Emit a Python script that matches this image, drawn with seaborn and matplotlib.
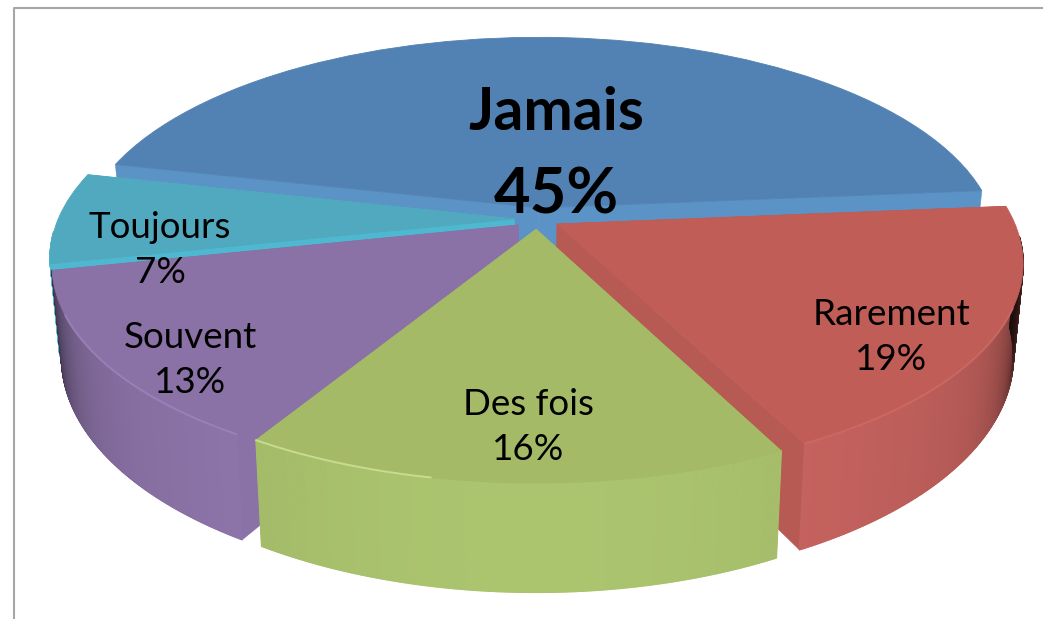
import numpy as np
import seaborn as sns
import matplotlib
matplotlib.use("Agg")
import matplotlib.pyplot as plt
from matplotlib.collections import PolyCollection
from matplotlib.colors import to_rgb
from matplotlib.transforms import Transform

# values
labels = ["Jamais", "Toujours", "Souvent", "Des fois", "Rarement"]
values = [45, 7, 13, 16, 19]

top_colors = ["#5282b3", "#50a9be", "#8a71a6", "#a4ba67", "#c05d57"]
side_colors = ["#5b93c7", "#4db8d0", "#9379b0", "#abc46e", "#cb6561"]
cut_colors = ["#5b93c7", "#4db8d0", "#8a71a6", "#a4ba67", "#b85a54"]

sns.set_theme(style="white")
plt.rcParams["font.family"] = ["Lato", "DejaVu Sans"]

# perspective of the pie plane, in pixels
CX, CY = 537, 219
A, B, K = 456, 204.5, 0.1777
DEPTH, TAPER = 89, 0.02


def project(xy):
    xy = np.atleast_2d(xy)
    w = 1 + K * xy[:, 1]
    return np.column_stack([CX + A * xy[:, 0] / w, CY - B * xy[:, 1] / w])


def extrude(xy):
    # same plane points, at the bottom of the slab
    p = project(xy)
    w = 1 + K * np.atleast_2d(xy)[:, 1]
    return np.column_stack([CX + (p[:, 0] - CX) * (1 - TAPER), p[:, 1] + DEPTH / w])


class Perspective(Transform):
    input_dims = output_dims = 2
    is_separable = False

    def transform_non_affine(self, values):
        return project(values)


def rim(wedge, theta):
    t = np.radians(theta)
    return np.column_stack([wedge.center[0] + wedge.r * np.cos(t),
                            wedge.center[1] + wedge.r * np.sin(t)])


def side_shade(theta):
    c = np.abs(np.cos(np.radians(theta)))
    return 1 - 0.72 * c ** 16 - 0.16 * c ** 2


fig = plt.figure(figsize=(10.43, 6.19), dpi=100)
ax = fig.add_axes([0, 0, 1, 1])

wedges, _ = ax.pie(values, startangle=5, explode=[0.055, 0.05, 0.05, 0.05, 0.05],
                   colors=sns.color_palette(top_colors), wedgeprops={"linewidth": 0.6})
ax.set_aspect("auto")
ax.set_xlim(0, 1043)
ax.set_ylim(619, 0)
ax.axis("off")

persp = Perspective()
# back to front
draw_order = [0, 1, 4, 2, 3]
for z, i in enumerate(draw_order):
    w = wedges[i]
    base = 2 + z * 3
    w.set_edgecolor(w.get_facecolor())
    w.set_transform(persp + ax.transData)
    w.set_zorder(base + 2)

    # cut faces
    apex = np.array([w.center])
    faces = []
    for th in (w.theta1, w.theta2):
        r = rim(w, np.array([th]))
        faces.append(np.vstack([project(apex), project(r), extrude(r), extrude(apex)]))
    ax.add_collection(PolyCollection(faces, facecolors=cut_colors[i], edgecolors="face",
                                     linewidths=0.4, zorder=base))

    # outer wall, one thin quad per step so it can darken to the sides
    th = np.linspace(w.theta1, w.theta2, 300)
    th = th[np.sin(np.radians(th)) < -0.06]
    if len(th) < 2:
        continue
    r = rim(w, th)
    top, bot = project(r), extrude(r)
    quads = [np.vstack([top[j], top[j + 1], bot[j + 1], bot[j]]) for j in range(len(th) - 1)]
    mid = (th[:-1] + th[1:]) / 2
    if labels[i] == "Toujours":
        cols = [to_rgb(side_colors[i])] * len(quads)
    else:
        cols = [np.array(to_rgb(side_colors[i])) * side_shade(t) for t in mid]
    ax.add_collection(PolyCollection(quads, facecolors=cols, edgecolors="face",
                                     linewidths=1.0, zorder=base + 1))

# light rim where top meets wall
for i, stop, col in [(3, 0.35, "#d3e29c"), (2, 0.75, "#9d85bd"), (4, 0.6, "#cf6b66")]:
    w = wedges[i]
    span = w.theta2 - w.theta1
    if i == 2:
        th = np.linspace(w.theta2 - stop * span, w.theta2, 60)
    else:
        th = np.linspace(w.theta1, w.theta1 + stop * span, 60)
    p = project(rim(w, th))
    ax.plot(p[:, 0], p[:, 1], color=col, lw=1.4, alpha=0.8, zorder=30, solid_capstyle="round")

# frame of the chart area, only left and top show
ax.plot([14, 14, 1043], [619, 7.5, 7.5], color="#a6a6a6", lw=1.5, zorder=1, clip_on=False)

label_pos = {"Toujours": (160, 250), "Souvent": (190, 360), "Des fois": (528, 427), "Rarement": (891, 337)}
for name, val in zip(labels, values):
    if name == "Jamais":
        ax.text(556, 113, name, ha="center", va="center", fontsize=42.5, fontweight="bold",
                color="black", zorder=40)
        ax.text(556, 195, f"{val}%", ha="center", va="center", fontsize=45.5, fontweight="bold",
                color="black", zorder=40)
    else:
        x, y = label_pos[name]
        ax.text(x, y, f"{name}\n{val}%", ha="center", va="center", fontsize=26.5,
                color="black", linespacing=1.42, zorder=40)

fig.savefig("out.png", dpi=100, facecolor="white")
